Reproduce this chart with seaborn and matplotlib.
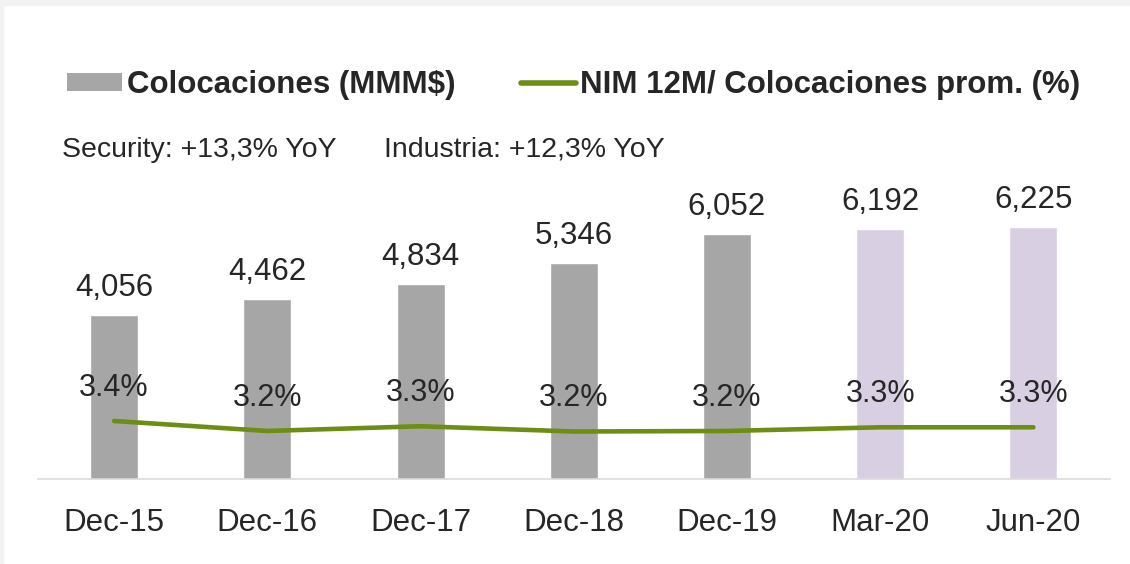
import numpy as np
import pandas as pd
import seaborn as sns
from matplotlib import pyplot as plt
from matplotlib.lines import Line2D
from matplotlib.patches import Patch, Rectangle

# loan book (MMM$) and 12M NIM over average loans (%)
periods = ["Dec-15", "Dec-16", "Dec-17", "Dec-18", "Dec-19", "Mar-20", "Jun-20"]
loans = [4056, 4462, 4834, 5346, 6052, 6192, 6225]
nim = [3.38, 3.19, 3.28, 3.18, 3.19, 3.26, 3.26]
quarterly = [False, False, False, False, False, True, True]

legend_labels = ["Colocaciones (MMM$)", "NIM 12M/ Colocaciones prom. (%)"]
growth_notes = ["Security: +13,3% YoY", "Industria: +12,3% YoY"]

sns.set_style("white")
plt.rcParams["font.family"] = ["Liberation Sans", "DejaVu Sans"]

TEXT = "#262626"
BAR_GRAY = "#A6A6A6"
BAR_LILAC = "#D9CFE3"
GREEN = "#6B8E13"
W, H = 1130, 564

df = pd.DataFrame({"period": periods, "loans": loans, "nim": nim})

fig = plt.figure(figsize=(W / 100, H / 100), dpi=100)
ax = fig.add_axes([37.5 / W, 85 / H, 1072.5 / W, 300 / H])

palette = {p: (BAR_LILAC if q else BAR_GRAY) for p, q in zip(periods, quarterly)}
sns.barplot(
    data=df, x="period", y="loans", hue="period", palette=palette,
    width=0.313, saturation=1, errorbar=None, legend=False, ax=ax,
)
for i, v in enumerate(df["loans"]):
    ax.annotate(f"{v:,}", (i, v), xytext=(0, 13.7), textcoords="offset points",
                ha="center", va="baseline", fontsize=22.5, color=TEXT)

# NIM line on its own scale
ax2 = ax.twinx()
sns.lineplot(x=np.arange(len(periods)), y=df["nim"], ax=ax2, color=GREEN,
             linewidth=3.3, solid_capstyle="round")
for i, v in enumerate(df["nim"]):
    ax2.annotate(f"{v:.1f}%", (i, v), xytext=(0, 18), textcoords="offset points",
                 ha="center", va="baseline", fontsize=22, color=TEXT)

ax.set_xlim(-0.5, len(periods) - 0.5)
ax.set_ylim(0, 7420)
ax2.set_ylim(2.277, 7.98)

for a in (ax, ax2):
    a.set_xlabel("")
    a.set_ylabel("")
    a.set_yticks([])
    for s in a.spines.values():
        s.set_visible(False)
ax.spines["bottom"].set_visible(True)
ax.spines["bottom"].set_color("#D9D9D9")
ax.spines["bottom"].set_linewidth(1.1)
ax.tick_params(axis="x", length=0, pad=21, labelsize=22.5, labelcolor=TEXT)

handles = [
    Patch(facecolor=BAR_GRAY, edgecolor="none"),
    Line2D([], [], color=GREEN, linewidth=4, solid_capstyle="round"),
]
fig.legend(handles, legend_labels, loc="center left",
           bbox_to_anchor=(67 / W, 1 - 85 / H), ncol=2, frameon=False,
           prop={"weight": "bold", "size": 22.5}, labelcolor=TEXT,
           handlelength=1.76, handleheight=0.55, handletextpad=0.16,
           columnspacing=2.08, borderpad=0, borderaxespad=0)

fig.text(62 / W, 1 - 150 / H, growth_notes[0], fontsize=20.5, va="center", color=TEXT)
fig.text(384 / W, 1 - 150 / H, growth_notes[1], fontsize=20.5, va="center", color=TEXT)

# thin grey frame at the top and left edge
fig.add_artist(Rectangle((0, 1 - 5 / H), 1, 5 / H, transform=fig.transFigure,
                         color="#F2F2F2", zorder=-1))
fig.add_artist(Rectangle((0, 0), 3 / W, 1, transform=fig.transFigure,
                         color="#F2F2F2", zorder=-1))

fig.savefig("out.png", dpi=100)
